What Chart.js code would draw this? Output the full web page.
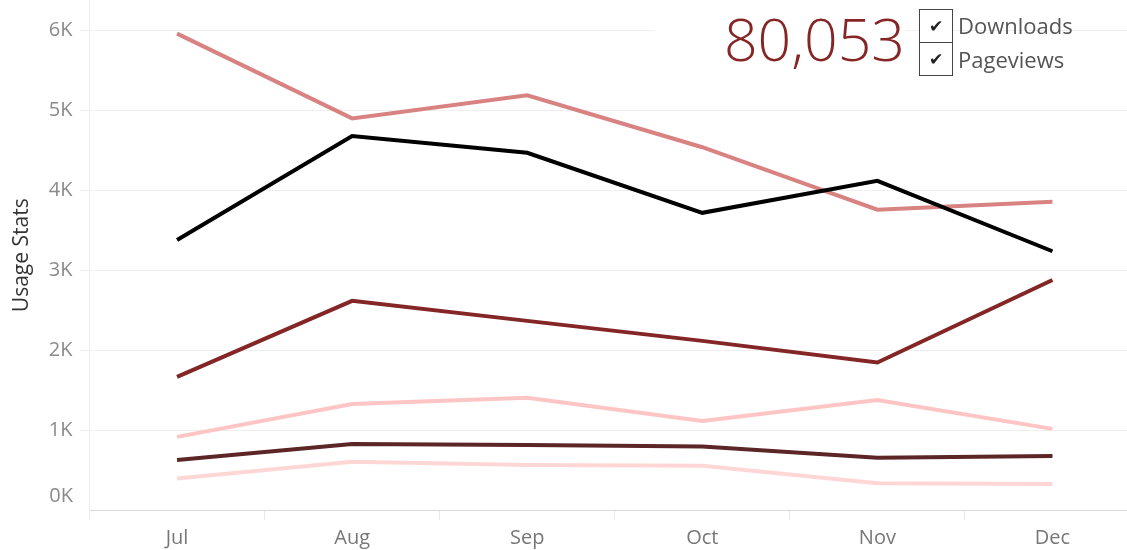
<!DOCTYPE html>
<html>
<head>
<meta charset="utf-8">
<script src="https://cdn.jsdelivr.net/npm/chart.js@4"></script>
<style>
  html, body { margin: 0; padding: 0; background: #fff; overflow: hidden; }
  #wrap { position: relative; width: 1127px; height: 550px; overflow: hidden; }
  #box { position: absolute; left: 0; top: 0; width: 1140px; height: 550px; }
  #total { position: absolute; left: 655px; top: 7px; width: 250px; height: 62px; background: #fff;
           font-family: "Open Sans", sans-serif; font-weight: 300; font-size: 59px; line-height: 62px;
           color: #862525; text-align: right; }
  .chk { position: absolute; left: 919px; width: 32px; height: 32px; border: 1px solid #444; background: #fff;
         font-family: "DejaVu Sans", sans-serif; font-size: 17px; line-height: 32px; text-align: center; color: #222; }
  .lbl { position: absolute; left: 958px; font-family: "Open Sans", sans-serif; font-size: 22px; color: #555; }
</style>
</head>
<body>
<div id="wrap">
  <div id="box"><canvas id="myChart" width="1140" height="550"></canvas></div>
  <div id="total">80,053</div>
  <div class="chk" style="top:9px">&#10004;</div>
  <div class="chk" style="top:42px">&#10004;</div>
  <div class="lbl" style="top:10px">Downloads</div>
  <div class="lbl" style="top:44px">Pageviews</div>
</div>
<script>
// setup
const months = ['Jul', 'Aug', 'Sep', 'Oct', 'Nov', 'Dec'];
const salmon = [5960, 4900, 5190, 4540, 3760, 3860];
const black = [3380, 4680, 4470, 3720, 4120, 3240];
const darkRed = [1670, 2620, 2370, 2120, 1850, 2880];
const pink = [920, 1330, 1410, 1120, 1380, 1020];
const brown = [630, 830, 820, 800, 660, 680];
const palePink = [400, 610, 570, 560, 340, 330];
const yTicks = [0, 1000, 2000, 3000, 4000, 5000, 6000];

const tickFont = { family: 'Open Sans', size: 20 };

function line(values, color) {
  return {
    data: values,
    borderColor: color,
    backgroundColor: color,
    borderWidth: 4,
    pointRadius: 0,
    tension: 0,
    fill: false
  };
}

const data = {
  labels: months,
  datasets: [
    line(palePink, '#ffd6d6'),
    line(brown, '#5c2626'),
    line(pink, '#ffc4c4'),
    line(darkRed, '#842626'),
    line(black, '#000000'),
    line(salmon, '#d98282')
  ]
};

// the 0K label sits a bit above its gridline
const zeroLabel = {
  id: 'zeroLabel',
  afterDraw(chart) {
    const ctx = chart.ctx;
    const y = chart.scales.y.getPixelForValue(0);
    ctx.save();
    ctx.font = '20px "Open Sans"';
    ctx.fillStyle = '#8a8a8a';
    ctx.textAlign = 'right';
    ctx.textBaseline = 'middle';
    ctx.fillText('0K', 73, y - 14);
    ctx.restore();
  }
};

// config
const config = {
  type: 'line',
  data,
  options: {
    responsive: false,
    animation: false,
    plugins: { legend: { display: false }, tooltip: { enabled: false } },
    scales: {
      x: {
        offset: true,
        afterFit(scale) { scale.height = 39.5; },
        grid: { offset: true, drawOnChartArea: false, color: '#e8e8e8', tickLength: 10 },
        border: { color: '#d8d8d8', dash: [2, 2] },
        ticks: { color: '#777', font: tickFont, padding: 6 }
      },
      y: {
        min: 0,
        max: 6380,
        afterFit(scale) { scale.width = 89.5; scale.paddingTop = 0; scale.paddingBottom = 0; },
        afterBuildTicks(scale) { scale.ticks = yTicks.map(v => ({ value: v })); },
        title: { display: true, text: 'Usage Stats', color: '#333', font: { family: 'Open Sans', size: 21 }, padding: { top: 9 } },
        grid: { color: ctx => ctx.tick && ctx.tick.value === 0 ? 'rgba(0,0,0,0)' : '#efefef', tickLength: 9 },
        border: { color: '#efefef' },
        ticks: {
          color: '#8a8a8a',
          font: tickFont,
          padding: 8,
          callback: v => v === 0 ? '' : (v / 1000) + 'K'
        }
      }
    }
  },
  plugins: [zeroLabel]
};

// render init block
const myChart = new Chart(document.getElementById('myChart'), config);
</script>
</body>
</html>
